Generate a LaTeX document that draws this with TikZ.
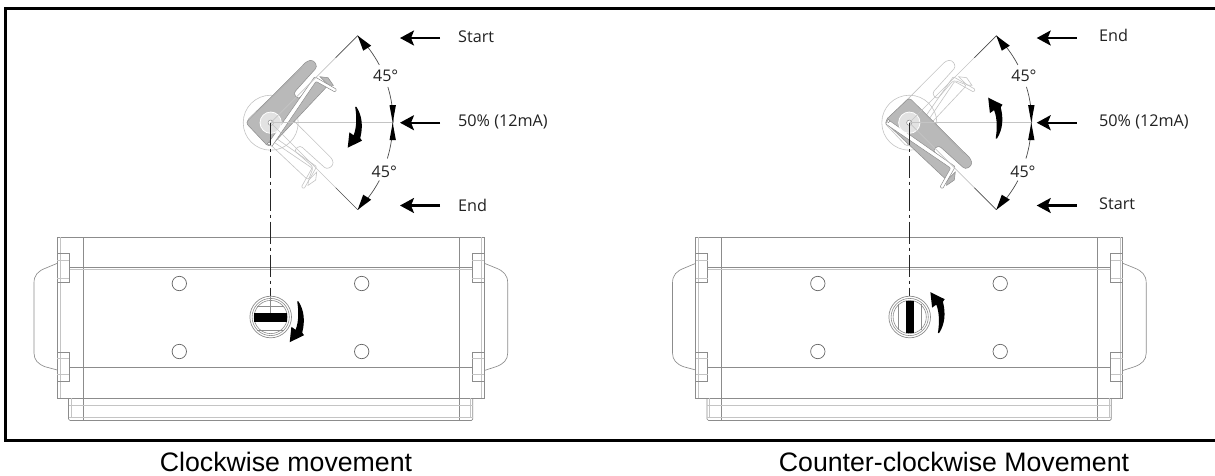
\documentclass[tikz,border=0pt]{standalone}
\usepackage{fontspec}
\setmainfont{Liberation Sans}
\newfontfamily\labelfont{Open Sans}
\usetikzlibrary{arrows.meta}
\definecolor{linegrey}{HTML}{8C8C8C}
\definecolor{softgrey}{HTML}{C4C4C4}
\definecolor{fillgrey}{HTML}{B9B9B9}
\definecolor{hubgrey}{HTML}{E2E2E2}
\definecolor{textdark}{HTML}{222222}
\tikzset{
  body/.style={draw=linegrey,line width=.65pt},
  faint/.style={draw=softgrey,line width=.6pt},
  dim/.style={draw=black!70,line width=.7pt},
  pointer/.style={draw=black,line width=2.2pt,-{Stealth[length=14pt,width=15pt,inset=3pt]}},
  tag/.style={font=\labelfont\fontsize{16.2}{18}\selectfont,text=textdark,anchor=west,inner sep=0pt},
  anglelabel/.style={font=\labelfont\fontsize{16}{18}\selectfont,text=textdark,inner sep=0pt},
  caption/.style={font=\fontsize{26.7}{30}\selectfont,text=black,inner sep=0pt,anchor=base},
  frameline/.style={draw=black,line width=3pt},
  zoomup/.style={x=.3333pt,y=-.3333pt},
  zoomdown/.style={x={(0pt,-.3333pt)},y={(-.3333pt,0pt)}}
}
% actuator body, in reference pixels
\newcommand{\actuator}{%
  \draw[body] (57.3,237) rectangle (484.3,398.3);
  \draw[faint] (60,237) -- (60,398.3) (481.5,237) -- (481.5,398.3);
  \draw[body] (83.3,237) -- (83.3,420) (459.3,237) -- (459.3,420);
  \draw[body] (68.5,398.3) -- (68.5,419) -- (70,420.5) -- (471.5,420.5) -- (472.8,419) -- (472.8,398.3);
  \draw[faint] (71,398.3) -- (71,418) (470.5,398.3) -- (470.5,418);
  \draw[faint] (68.5,405) -- (472.8,405) (68.5,417.7) -- (472.8,417.7);
  \draw[body] (69,267.2) -- (472.3,267.2) (69,367.4) -- (472.3,367.4);
  \draw[faint] (69,268.8) -- (472.3,268.8);
  \foreach \ya/\yb/\yc/\yd in {253.3/260/278.3/282.3,352.3/358.3/374/381.7}{
    \draw[body] (57.3,\ya) -- (69,\ya) -- (69,\yd) -- (57.3,\yd);
    \draw[faint] (57.3,\yb) -- (69,\yb) (57.3,\yc) -- (69,\yc);
    \draw[body] (484.3,\ya) -- (472.3,\ya) -- (472.3,\yd) -- (484.3,\yd);
    \draw[faint] (484.3,\yb) -- (472.3,\yb) (484.3,\yc) -- (472.3,\yc);
  }
  \draw[body] (57.3,263.3) -- (46,268) .. controls (38,271) and (34,275) .. (34,283)
    -- (34,353) .. controls (34,360) and (38,364) .. (45,366.7) -- (57.3,370);
  \draw[body] (484.3,263.3) -- (496,268) .. controls (503.5,271) and (507.7,275) .. (507.7,283)
    -- (507.7,353) .. controls (507.7,360) and (503.5,364) .. (496,366.7) -- (484.3,370.5);
  \foreach \hx/\hy in {179.3/283.5,179.3/351.5,361.7/283.5,361.7/351.5}
    \draw[draw=black!60,line width=.7pt] (\hx,\hy) circle[radius=7.2];
}
\newcommand{\leverpath}{(-75,0) -- (110,-186) -- (128,-188) -- (140,-168) -- (68,-88) -- (83,-70) -- (133,-128) -- (173,-113) -- (13,57) -- (-7,72) -- cycle}
\newcommand{\bracketpath}{(-8,62) -- (132,-138) -- (198,-100) -- (193,-92) -- (136,-124) -- (3,72) -- cycle}
\newcommand{\tabpath}{(148,-138) -- (172,-135) -- (188,-112) -- (173,-113) -- cycle}
% ghost lever: outline only, at the position given by the scope
\newcommand{\leverghost}{%
  \draw[faint,rounded corners=3pt] \leverpath;
  \draw[faint,rounded corners=1pt] \bracketpath;
  \draw[faint] \tabpath;
}
% solid lever
\newcommand{\leversolid}{%
  \filldraw[fill=fillgrey,draw=linegrey,line width=.5pt,rounded corners=3pt] \leverpath;
  \filldraw[fill=fillgrey,draw=linegrey,line width=.5pt] \tabpath;
  \filldraw[fill=white,draw=linegrey,line width=.5pt,rounded corners=1pt] \bracketpath;
  \draw[draw=linegrey!70,line width=.4pt] (-45,-28) -- (95,-165);
  \draw[draw=white,fill=hubgrey,line width=.8pt] (0,0) circle[radius=32];
  \draw[draw=linegrey,line width=.5pt,fill=white] (0,0) circle[radius=8];
  \draw[draw=linegrey,fill=white,line width=.5pt] (-5,63) circle[radius=5];
}
% tapered curved arrow; origin on its axis, y grows downward
\newcommand{\swing}{%
  \fill[black] (-0.8,-15.7) -- (0.4,-15.9) .. controls (6.2,-7) and (7.2,4) .. (4.2,15.4)
    -- (6,18) -- (-8.3,25) -- (-6.6,9.6) -- (-2.4,12.6)
    .. controls (1,4) and (0.6,-7) .. (-0.8,-15.7) -- cycle;
}
\begin{document}
\begin{tikzpicture}[x=1pt,y=-1pt]
\useasboundingbox (0,0) rectangle (1215,475);
\fill[white] (0,0) rectangle (1215,475);
\draw[frameline] (5.5,8.5) -- (1216,8.5) (5.5,440.7) -- (1216,440.7) (5.5,7) -- (5.5,442.2);

% ---- actuators
\actuator
\begin{scope}[shift={(638.5,0)}]
  \actuator
\end{scope}

% ---- left lever: solid up, ghost down
\begin{scope}[shift={(270.7,122.7)}]
  \draw[softgrey,line width=.6pt] (0,0) circle[radius=27.5];
  \begin{scope}[zoomdown]\leverghost\end{scope}
  \begin{scope}[zoomup]\leversolid\end{scope}
\end{scope}
% ---- right lever: ghost up, solid down
\begin{scope}[shift={(909.3,122.7)}]
  \draw[softgrey,line width=.6pt] (0,0) circle[radius=27.5];
  \begin{scope}[zoomup]\leverghost\end{scope}
  \begin{scope}[zoomdown]\leversolid\end{scope}
\end{scope}

% ---- dimension sets
\foreach \cx in {270.7,909.3}{
  \begin{scope}[shift={(\cx,122.7)}]
    \coordinate (pivot) at (0,0);
    \coordinate (apexT) at (87,-87);
    \coordinate (apexB) at (87,87);
    \coordinate (mid) at (122,0);
    \coordinate (kneeT) at (65,-65);
    \coordinate (kneeB) at (65,65);
    \draw[softgrey,line width=.9pt] (pivot) -- (mid);
    \draw[softgrey,line width=.6pt] (pivot) -- (kneeT);
    \draw[softgrey,line width=.6pt] (pivot) -- (kneeB);
    \draw[dim] (kneeT) -- (apexT);
    \draw[dim] (kneeB) -- (apexB);
    \draw[dim] (apexT) arc[start angle=-45,end angle=-28,radius=123];
    \draw[dim] (-17:122.5) arc[start angle=-17,end angle=0,radius=122.5];
    \draw[dim] (mid) arc[start angle=0,end angle=17,radius=122.5];
    \draw[dim] (apexB) arc[start angle=45,end angle=28,radius=123];
    \fill[black] (apexT) -- ++(5.5,15) -- ++(8,-5) -- cycle;
    \fill[black] (apexB) -- ++(5.5,-15) -- ++(8,5) -- cycle;
    \fill[black] (mid) -- ++(-3.2,-17.5) -- ++(6.4,0) -- cycle;
    \fill[black] (mid) -- ++(-3.2,17.5) -- ++(6.4,0) -- cycle;
    \draw[black!85,line width=.8pt,dash pattern=on 22pt off 4pt on 3pt off 4pt] (pivot) -- (0,173);
  \end{scope}
}

% ---- curved arrows
\begin{scope}[shift={(356,122.7)}]\swing\end{scope}
\begin{scope}[shift={(298,317.2)}]\swing\end{scope}
\begin{scope}[shift={(996.5,122.7)},yscale=-1]\swing\end{scope}
\begin{scope}[shift={(938.7,317.2)},yscale=-1]\swing\end{scope}

% ---- rotors
\foreach \rx in {270.7,909.7}{
  \draw[draw=linegrey,line width=.7pt] (\rx,317) circle[radius=20.8];
  \draw[draw=linegrey,line width=.6pt] (\rx,317) circle[radius=18.6];
  \draw[draw=linegrey,line width=.6pt] (\rx,317) circle[radius=16.6];
}
\draw[body] (257,306) -- (284,306) (257,330) -- (284,330) (270.7,296) -- (270.7,313);
\fill[black] (254.3,313.3) rectangle (287.3,322.3);
\draw[body] (898,304) -- (898,330) (921.7,304) -- (921.7,330);
\fill[black] (905.7,301) rectangle (914,333.3);

% ---- pointers and tags
\coordinate (lTs) at (440,38); \coordinate (lTe) at (400,38);
\coordinate (lMs) at (440,122.7); \coordinate (lMe) at (400,122.7);
\coordinate (lBs) at (440,205.5); \coordinate (lBe) at (400,205.5);
\coordinate (rTs) at (1076.7,38); \coordinate (rTe) at (1036.7,38);
\coordinate (rMs) at (1076.7,122.7); \coordinate (rMe) at (1036.7,122.7);
\coordinate (rBs) at (1076.7,205.5); \coordinate (rBe) at (1036.7,205.5);
\foreach \a/\b in {lTs/lTe,lMs/lMe,lBs/lBe,rTs/rTe,rMs/rMe,rBs/rBe}
  \draw[pointer] (\a) -- (\b);

\node[tag] (t1) at (458,37) {Start};
\node[tag] (t2) at (458,122) {50\% (12mA)};
\node[tag] (t3) at (458,205) {End};
\node[tag] (t4) at (1099,35) {End};
\node[tag] (t5) at (1099,122) {50\% (12mA)};
\node[tag] (t6) at (1099,204) {Start};
\node[anglelabel] (a1) at (385.7,76) {45°};
\node[anglelabel] (a2) at (384.3,171.7) {45°};
\node[anglelabel] (a3) at (1024,76) {45°};
\node[anglelabel] (a4) at (1023,171.7) {45°};
\node[caption] (c1) at (286,471.5) {Clockwise movement};
\node[caption] (c2) at (954,471.5) {Counter-clockwise Movement};
\end{tikzpicture}
\end{document}
